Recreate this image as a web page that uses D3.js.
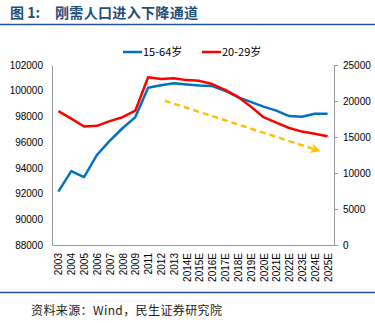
<!DOCTYPE html>
<html><head><meta charset="utf-8">
<script src="https://cdn.jsdelivr.net/npm/d3@7"></script>
<style>
body{margin:0;background:#fff;}
svg{display:block;}
</style></head>
<body>
<svg id="c" width="375" height="323"></svg>
<script>
const categories = ["2003","2004","2005","2006","2007","2008","2009","2011","2012","2013","2014E","2015E","2016E","2017E","2018E","2019E","2020E","2021E","2022E","2023E","2024E","2025E"];
const age15to64 = [92150,93750,93270,95000,96100,97080,97950,100230,100420,100580,100480,100400,100370,100000,99500,99130,98760,98450,98030,97980,98210,98210];
const age20to29 = [18600,17550,16450,16550,17200,17750,18650,23300,23050,23150,22900,22800,22350,21550,20600,19250,17750,17000,16250,15750,15450,15100];
const leftTicks = [88000,90000,92000,94000,96000,98000,100000,102000];
const rightTicks = [0,5000,10000,15000,20000,25000];
const seriesNames = ["15-64岁","20-29岁"];
// trend arrow annotation: category index position and left-axis value
const arrowStart = [8.3, 99220];
const arrowEnd = [20.15, 95390];

const svg = d3.select("#c");
const L = 52, R = 334, T = 65, B = 245;

const x = d3.scalePoint().domain(categories).range([L, R]).padding(0.5);
const yL = d3.scaleLinear().domain([88000,102000]).range([B, T]);
const yR = d3.scaleLinear().domain([0,25000]).range([B, T]);
const xi = i => x(categories[0]) + i * x.step();

// title
svg.append("text").attr("x",10).attr("y",18).attr("fill","#1F4E79")
  .style("font-family","'Noto Sans CJK SC',sans-serif").style("font-weight","bold").style("font-size","14px")
  .text("图 1:");
svg.append("text").attr("x",55).attr("y",18).attr("fill","#1F4E79")
  .style("font-family","'Noto Sans CJK SC',sans-serif").style("font-weight","bold").style("font-size","14px")
  .attr("textLength",143).text("刚需人口进入下降通道");
svg.append("line").attr("x1",0).attr("x2",375).attr("y1",24.5).attr("y2",24.5).attr("stroke","#1F5597").attr("stroke-width",1.5);

// footer
svg.append("line").attr("x1",0).attr("x2",375).attr("y1",292.5).attr("y2",292.5).attr("stroke","#1F5597").attr("stroke-width",1.5);
svg.append("text").attr("x",31).attr("y",315).attr("fill","#222")
  .style("font-family","'Noto Sans CJK SC',serif").style("font-size","12px")
  .attr("textLength",191).text("资料来源：Wind，民生证券研究院");

// axes
const fontAx = "'Liberation Sans',Arial,sans-serif";
const gL = svg.append("g").attr("transform",`translate(${L},0)`)
  .call(d3.axisLeft(yL).tickValues(leftTicks).tickSize(0).tickPadding(9).tickFormat(d3.format("d")));
gL.select(".domain").attr("stroke","#999");
const gR = svg.append("g").attr("transform",`translate(${R},0)`)
  .call(d3.axisRight(yR).tickValues(rightTicks).tickSize(4).tickSizeOuter(0).tickPadding(5).tickFormat(d3.format("d")));
gR.select(".domain").attr("stroke","#999");
gR.selectAll(".tick line").attr("stroke","#999");
const gB = svg.append("g").attr("transform",`translate(0,${B})`)
  .call(d3.axisBottom(x).tickSize(0).tickSizeOuter(0).tickPadding(0));
gB.select(".domain").attr("stroke","#999");
gB.selectAll("text").attr("transform","translate(0,8) rotate(-90)").attr("text-anchor","end")
  .attr("dx",0).attr("dy","0.35em").attr("y",0).attr("x",0);
[gL,gR,gB].forEach(g=>g.selectAll("text").style("font-family",fontAx).style("font-size","10px").attr("fill","#000"));

// lines
const lineL = d3.line().x((d,i)=>x(categories[i])).y(d=>yL(d));
const lineR = d3.line().x((d,i)=>x(categories[i])).y(d=>yR(d));
svg.append("path").datum(age15to64).attr("d",lineL).attr("fill","none").attr("stroke","#0070C0").attr("stroke-width",2.5).attr("stroke-linejoin","round");
svg.append("path").datum(age20to29).attr("d",lineR).attr("fill","none").attr("stroke","#FF0000").attr("stroke-width",2.5).attr("stroke-linejoin","round");

// arrow
const defs = svg.append("defs");
defs.append("marker").attr("id","ah").attr("viewBox","0 0 10 10").attr("refX",6).attr("refY",5)
  .attr("markerWidth",4).attr("markerHeight",4).attr("orient","auto").attr("markerUnits","strokeWidth")
  .append("path").attr("d","M0,0 L10,5 L0,10 L3,5 Z").attr("fill","#FFC000");
svg.append("line").attr("x1",xi(arrowStart[0])).attr("y1",yL(arrowStart[1]))
  .attr("x2",xi(arrowEnd[0])).attr("y2",yL(arrowEnd[1]))
  .attr("stroke","#FFC000").attr("stroke-width",2.5).attr("stroke-dasharray","6,4").attr("marker-end","url(#ah)");

// legend
const leg = [{n:seriesNames[0],c:"#0070C0",x:123},{n:seriesNames[1],c:"#FF0000",x:202}];
leg.forEach(d=>{
  svg.append("line").attr("x1",d.x).attr("x2",d.x+19).attr("y1",52).attr("y2",52).attr("stroke",d.c).attr("stroke-width",2.5);
  svg.append("text").attr("x",d.x+20).attr("y",56).style("font-family","'Noto Sans CJK SC',sans-serif").style("font-size","11px").attr("fill","#000").text(d.n);
});
</script>
</body></html>
